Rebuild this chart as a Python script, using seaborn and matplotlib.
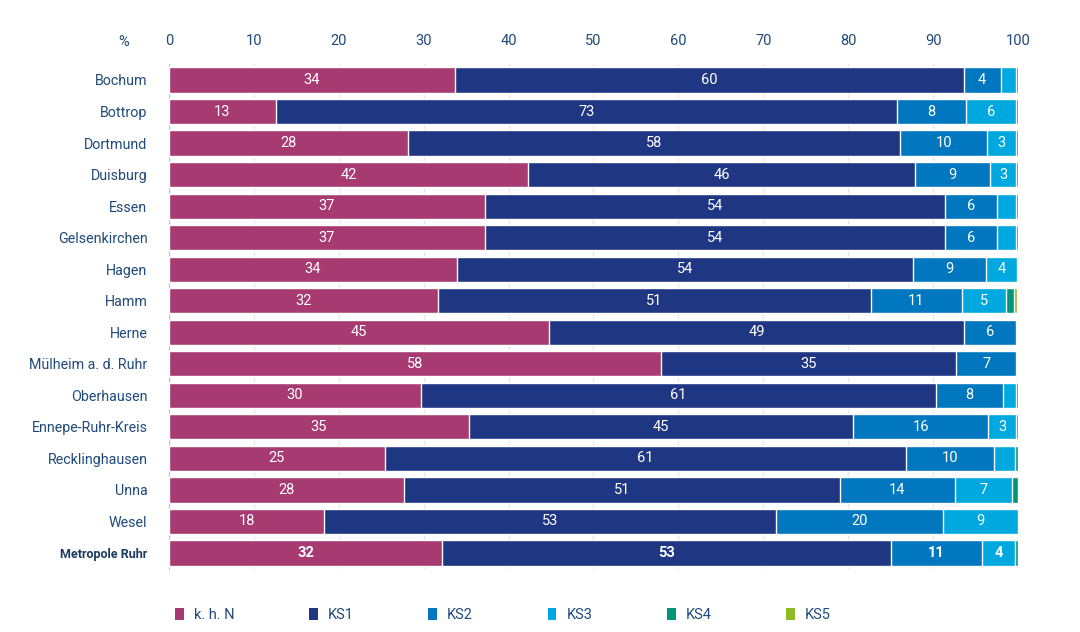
import matplotlib
matplotlib.use("Agg")
import matplotlib.pyplot as plt
from matplotlib.patches import Patch
import seaborn as sns
import numpy as np
import pandas as pd

regions = ["Bochum", "Bottrop", "Dortmund", "Duisburg", "Essen", "Gelsenkirchen", "Hagen",
           "Hamm", "Herne", "Mülheim a. d. Ruhr", "Oberhausen", "Ennepe-Ruhr-Kreis",
           "Recklinghausen", "Unna", "Wesel", "Metropole Ruhr"]
khn = [33.7, 12.6, 28.2, 42.3, 37.2, 37.2, 33.9, 31.7, 44.8, 57.9, 29.7, 35.3, 25.4, 27.7, 18.3, 32.2]
ks1 = [59.9, 73.2, 57.9, 45.6, 54.2, 54.2, 53.7, 51.0, 48.8, 34.8, 60.6, 45.3, 61.4, 51.3, 53.2, 52.8]
ks2 = [4.4, 8.1, 10.3, 8.8, 6.1, 6.1, 8.6, 10.7, 6.2, 7.1, 7.9, 15.9, 10.4, 13.6, 19.7, 10.8]
ks3 = [1.8, 5.9, 3.4, 3.1, 2.3, 2.3, 3.7, 5.2, 0.1, 0.1, 1.6, 3.3, 2.4, 6.7, 8.8, 3.9]
ks4 = [0.2, 0.2, 0.2, 0.2, 0.2, 0.2, 0.1, 0.9, 0.1, 0.1, 0.2, 0.2, 0.4, 0.7, 0.0, 0.3]
ks5 = [0.0, 0.0, 0.0, 0.0, 0.0, 0.0, 0.0, 0.4, 0.0, 0.0, 0.0, 0.0, 0.0, 0.0, 0.0, 0.0]
series_names = ["k. h. N", "KS1", "KS2", "KS3", "KS4", "KS5"]
colors = ["#A83A72", "#1F3683", "#0077BE", "#00A8E0", "#009679", "#8CBB26"]
text_color = "#1F4A7A"

sns.set_style("white")
plt.rcParams["font.family"] = ["Roboto", "DejaVu Sans"]

df = pd.DataFrame({"region": regions})
series = [khn, ks1, ks2, ks3, ks4, ks5]
cum = np.cumsum(np.array(series), axis=0)

fig = plt.figure(figsize=(10.8, 6.32), dpi=100)
ax = fig.add_axes([0.1565, 0.1, 0.786, 0.7984])

# draw cumulative layers from longest to shortest so segments stack
for i in range(len(series) - 1, -1, -1):
    df["val"] = cum[i]
    sns.barplot(data=df, x="val", y="region", orient="h", color=colors[i],
                width=0.8, saturation=1, ax=ax, zorder=2)

# segment labels
for r in range(len(regions)):
    bold = regions[r] == "Metropole Ruhr"
    left = 0
    for i, s in enumerate(series):
        v = s[r]
        if v >= 2.5:
            ax.text(left + v / 2, r, f"{round(v)}", ha="center", va="center",
                    color="white", fontsize=10.5,
                    fontweight="bold" if bold else "normal", zorder=3)
        left += v

ax.set_xlim(0, 100)
ax.set_ylim(len(regions) - 0.5, -0.5)
ax.set_xticks(range(0, 101, 10))
ax.xaxis.tick_top()
ax.tick_params(axis="x", length=0, pad=12, labelsize=10.5, labelcolor=text_color)
ax.tick_params(axis="y", length=0, pad=15.5, labelsize=10.3, labelcolor=text_color)
ax.set_xlabel("")
ax.set_ylabel("")
ax.grid(axis="x", color="#E3E6EC", linewidth=1, zorder=0)
for sp in ["top", "right", "bottom"]:
    ax.spines[sp].set_visible(False)
ax.spines["left"].set_color("#B8C0CC")
ax.spines["left"].set_zorder(1)
for lab in ax.get_yticklabels():
    if lab.get_text() == "Metropole Ruhr":
        lab.set_fontweight("bold")
        lab.set_fontsize(9)
        lab.set_color("#1A3A60")

fig.text(124 / 1080, 1 - 42 / 632, "%", ha="center", va="center",
         fontsize=10.5, color=text_color)

handles = [Patch(facecolor=c, edgecolor="none") for c in colors]
leg = fig.legend(handles, series_names, loc="center left",
                 bbox_to_anchor=(175 / 1080, 1 - 615 / 632), ncol=6, frameon=False,
                 handlelength=0.6, handleheight=0.9, handletextpad=0.7,
                 columnspacing=5.1, fontsize=10.5, borderaxespad=0, borderpad=0)
for t in leg.get_texts():
    t.set_color(text_color)

fig.savefig("out.png", dpi=100)
